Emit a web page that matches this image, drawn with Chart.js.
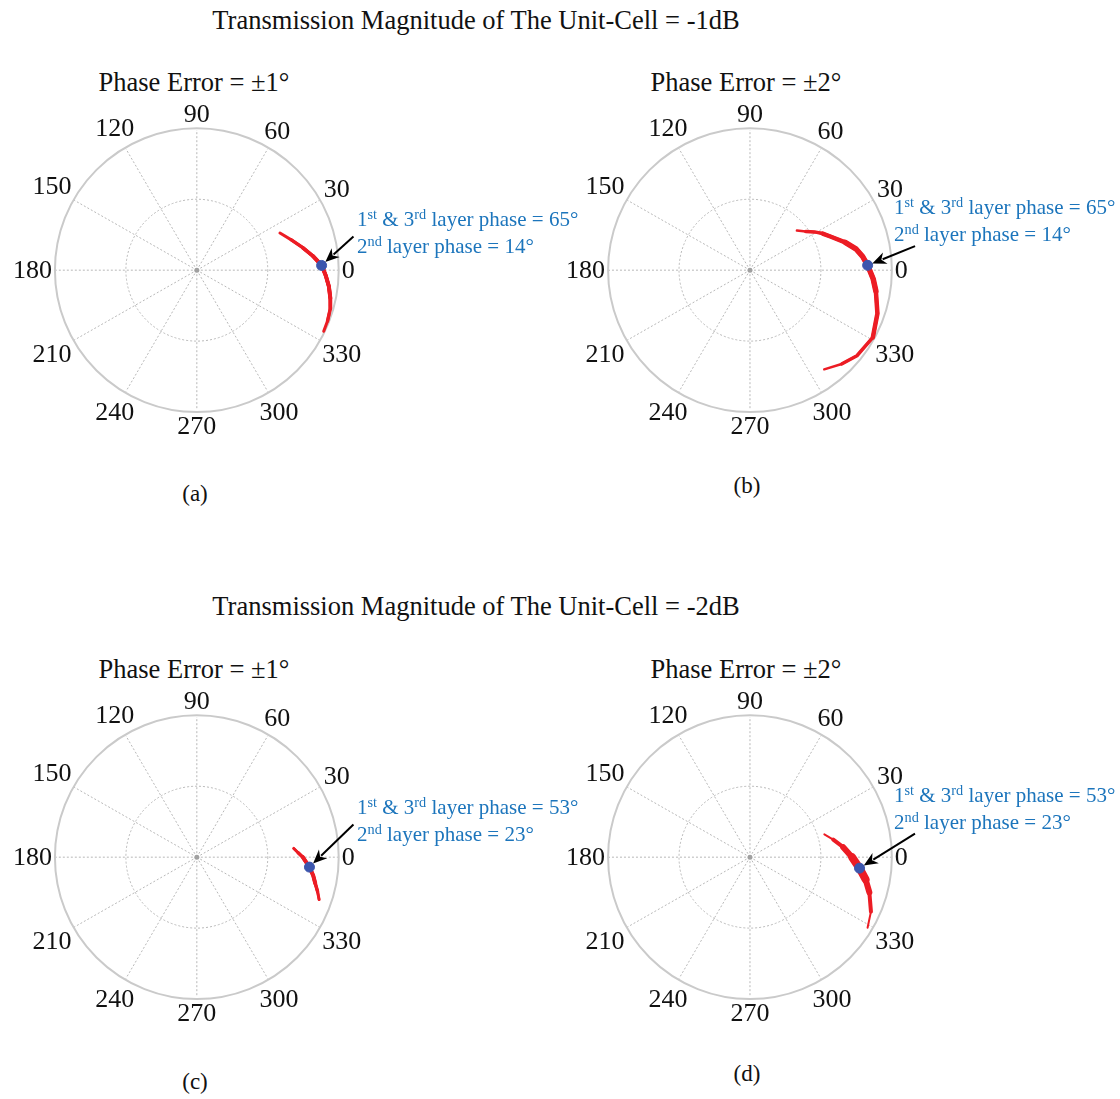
<!DOCTYPE html>
<html><head><meta charset="utf-8">
<script src="https://cdn.jsdelivr.net/npm/chart.js@4"></script>
<style>
body{margin:0;background:#fff;width:1120px;height:1099px;position:relative;overflow:hidden;font-family:'Liberation Serif','Times New Roman',serif;}
.t{position:absolute;white-space:nowrap;color:#111;transform:translateX(-50%);line-height:30px;}
.ann{position:absolute;white-space:nowrap;color:#1c75bc;font-size:21px;line-height:25px;}
.ann sup{font-size:0.68em;vertical-align:0;position:relative;top:-0.5em}
canvas{position:absolute}
</style></head><body>

<div class="t" style="left:476px;top:5px;font-size:26.5px">Transmission Magnitude of The Unit-Cell = -1dB</div>
<div class="t" style="left:476px;top:591px;font-size:26.5px">Transmission Magnitude of The Unit-Cell = -2dB</div>

<div class="t" style="left:194px;top:67px;font-size:26.5px">Phase Error = ±1°</div>
<div class="t" style="left:746px;top:67px;font-size:26.5px">Phase Error = ±2°</div>
<div class="t" style="left:194px;top:654px;font-size:26.5px">Phase Error = ±1°</div>
<div class="t" style="left:746px;top:654px;font-size:26.5px">Phase Error = ±2°</div>

<div class="t" style="left:195px;top:479px;font-size:23px">(a)</div>
<div class="t" style="left:747px;top:471px;font-size:23px">(b)</div>
<div class="t" style="left:195px;top:1067px;font-size:23px">(c)</div>
<div class="t" style="left:747px;top:1059px;font-size:23px">(d)</div>

<canvas id="ca" width="560" height="360" style="left:0;top:95px"></canvas>
<canvas id="cb" width="560" height="360" style="left:560px;top:95px"></canvas>
<canvas id="cc" width="560" height="360" style="left:0;top:682px"></canvas>
<canvas id="cd" width="560" height="360" style="left:560px;top:682px"></canvas>

<div class="ann" style="left:357px;top:207px">1<sup>st</sup> &amp; 3<sup>rd</sup> layer phase = 65°<br>2<sup>nd</sup> layer phase = 14°</div>
<div class="ann" style="left:894px;top:195px">1<sup>st</sup> &amp; 3<sup>rd</sup> layer phase = 65°<br>2<sup>nd</sup> layer phase = 14°</div>
<div class="ann" style="left:357px;top:795px">1<sup>st</sup> &amp; 3<sup>rd</sup> layer phase = 53°<br>2<sup>nd</sup> layer phase = 23°</div>
<div class="ann" style="left:894px;top:783px">1<sup>st</sup> &amp; 3<sup>rd</sup> layer phase = 53°<br>2<sup>nd</sup> layer phase = 23°</div>

<script>
// ---------- data ----------
const angleTicks = [0, 30, 60, 90, 120, 150, 180, 210, 240, 270, 300, 330];
const angleTickLabels = ['0', '30', '60', '90', '120', '150', '180', '210', '240', '270', '300', '330'];
const radialRing = 0.5;

// (a) -1 dB, ±1°
const arcA_theta = [24.3, 18, 12.1, 7, 2.2, -2.5, -7.1, -12, -16.2, -21.5, -26];
const arcA_r     = [0.643, 0.70, 0.764, 0.825, 0.881, 0.91, 0.938, 0.962, 0.98, 0.99, 0.995];
// (b) -1 dB, ±2°
const arcB_theta = [40.5, 35, 31, 27, 23, 16.5, 11.3, 7, 2.4, -4, -9.6, -19, -29, -39, -46, -53.5];
const arcB_r     = [0.435, 0.48, 0.53, 0.575, 0.615, 0.70, 0.764, 0.80, 0.83, 0.87, 0.90, 0.95, 0.99, 0.97, 0.93, 0.88];
// (c) -2 dB, ±1°
const arcC_theta = [5.2, 2.5, 0, -5.1, -9, -12.6, -16, -19.3];
const arcC_r     = [0.686, 0.715, 0.747, 0.797, 0.83, 0.855, 0.885, 0.913];
// (d) -2 dB, ±2°
const arcD_theta = [17.3, 12, 6.2, 0, -5.8, -11, -16.6, -24.5, -31.3];
const arcD_r     = [0.549, 0.60, 0.661, 0.72, 0.776, 0.83, 0.878, 0.937, 0.97];

// selected design point (blue marker) for a, b, c, d
const markerR     = [0.88, 0.83, 0.797, 0.776];
const markerTheta = [2.2, 2.4, -5.1, -5.8];
// arrow tail positions (polar, in radius units) for a, b, c, d
const arrowTailR     = [1.13, 1.176, 1.128, 1.175];
const arrowTailTheta = [12.3, 8.4, 11.9, 8.2];

// ---------- helpers ----------
const rad = d => d * Math.PI / 180;
const toXY = (r, th) => ({x: r * Math.cos(rad(th)), y: r * Math.sin(rad(th))});

const RADIUS_PX = 145;
// band styling: stroke widths, from whole arc to its central core
const panels = [
  {id: 'ca', th: arcA_theta, r: arcA_r, cx: 195, cy: 175, widths: [3, 3.4, 3.7, 4]},
  {id: 'cb', th: arcB_theta, r: arcB_r, cx: 188, cy: 175, widths: [2.5, 3.5, 4.5, 5.5]},
  {id: 'cc', th: arcC_theta, r: arcC_r, cx: 195, cy: 175, widths: [2.5, 3, 3.5, 4]},
  {id: 'cd', th: arcD_theta, r: arcD_r, cx: 188, cy: 175, widths: [2, 4, 6, 8]}
];

function polarPlugin(idx) {
  return {
    id: 'polarGrid' + idx,
    beforeDatasetsDraw(chart) {
      const xs = chart.scales.x, ys = chart.scales.y, ctx = chart.ctx;
      const cx = xs.getPixelForValue(0), cy = ys.getPixelForValue(0);
      const R = xs.getPixelForValue(1) - cx;
      ctx.save();
      ctx.strokeStyle = '#b8b8b8'; ctx.lineWidth = 1; ctx.setLineDash([2, 2]);
      angleTicks.forEach(a => {
        ctx.beginPath(); ctx.moveTo(cx, cy);
        ctx.lineTo(xs.getPixelForValue(Math.cos(rad(a))), ys.getPixelForValue(Math.sin(rad(a))));
        ctx.stroke();
      });
      ctx.beginPath(); ctx.arc(cx, cy, R * radialRing, 0, Math.PI * 2); ctx.stroke();
      ctx.setLineDash([]); ctx.strokeStyle = '#cacaca'; ctx.lineWidth = 2;
      ctx.beginPath(); ctx.arc(cx, cy, R, 0, Math.PI * 2); ctx.stroke();
      ctx.fillStyle = '#a0a0a0'; ctx.beginPath(); ctx.arc(cx, cy, 2.5, 0, Math.PI * 2); ctx.fill();
      ctx.font = "26px 'Liberation Serif'"; ctx.fillStyle = '#111';
      ctx.textAlign = 'center'; ctx.textBaseline = 'middle';
      angleTicks.forEach((a, i) => {
        const lbl = angleTickLabels[i];
        const w = ctx.measureText(lbl).width, h = 22;
        const d = R + 3 + Math.abs(Math.cos(rad(a))) * w / 2 + Math.abs(Math.sin(rad(a))) * h / 2;
        ctx.fillText(lbl, cx + d * Math.cos(rad(a)), cy - d * Math.sin(rad(a)) + 1);
      });
      ctx.restore();
    },
    afterDatasetsDraw(chart) {
      const xs = chart.scales.x, ys = chart.scales.y, ctx = chart.ctx;
      const t = toXY(arrowTailR[idx], arrowTailTheta[idx]);
      const m = toXY(markerR[idx], markerTheta[idx]);
      const x1 = xs.getPixelForValue(t.x), y1 = ys.getPixelForValue(t.y);
      const x2 = xs.getPixelForValue(m.x), y2 = ys.getPixelForValue(m.y);
      const L = Math.hypot(x2 - x1, y2 - y1);
      const ux = (x2 - x1) / L, uy = (y2 - y1) / L;
      const hx = x2 - ux * 5, hy = y2 - uy * 5;
      const hl = 14, hw = 6;
      ctx.save();
      ctx.strokeStyle = '#000'; ctx.fillStyle = '#000'; ctx.lineWidth = 2;
      ctx.beginPath(); ctx.moveTo(x1, y1); ctx.lineTo(hx - ux * hl * 0.8, hy - uy * hl * 0.8); ctx.stroke();
      ctx.beginPath();
      ctx.moveTo(hx, hy);
      ctx.lineTo(hx - ux * hl - uy * hw, hy - uy * hl + ux * hw);
      ctx.lineTo(hx - ux * hl * 0.7, hy - uy * hl * 0.7);
      ctx.lineTo(hx - ux * hl + uy * hw, hy - uy * hl - ux * hw);
      ctx.closePath(); ctx.fill();
      ctx.restore();
    }
  };
}

panels.forEach((p, idx) => {
  const canvas = document.getElementById(p.id);
  const W = canvas.width, H = canvas.height;
  const arcPts = p.th.map((th, i) => toXY(p.r[i], th));
  const mk = toXY(markerR[idx], markerTheta[idx]);
  const n = arcPts.length, levels = p.widths.length;
  const lineDs = (pts, w) => ({data: pts, showLine: true, pointRadius: 0, borderColor: '#ec1c24',
    borderCapStyle: 'round', borderJoinStyle: 'round', borderWidth: w, tension: 0});
  const bandSets = p.widths.map((w, k) => {
    const a = Math.floor(k * (n - 1) / (2 * levels));
    return lineDs(arcPts.slice(a, n - a), w);
  }).reverse();
  new Chart(canvas, {
    type: 'scatter',
    data: {
      datasets: [
        {data: [mk], pointRadius: 5, pointHoverRadius: 5, pointBackgroundColor: '#3c56ad', pointBorderColor: '#3c56ad', showLine: false},
        ...bandSets
      ]
    },
    options: {
      responsive: false, animation: false, devicePixelRatio: 1,
      layout: {padding: 0},
      plugins: {legend: {display: false}, tooltip: {enabled: false}, title: {display: false}},
      scales: {
        x: {type: 'linear', display: false, min: -p.cx / RADIUS_PX, max: (W - p.cx) / RADIUS_PX},
        y: {type: 'linear', display: false, min: -(H - p.cy) / RADIUS_PX, max: p.cy / RADIUS_PX}
      }
    },
    plugins: [polarPlugin(idx)]
  });
});
</script>
</body></html>
